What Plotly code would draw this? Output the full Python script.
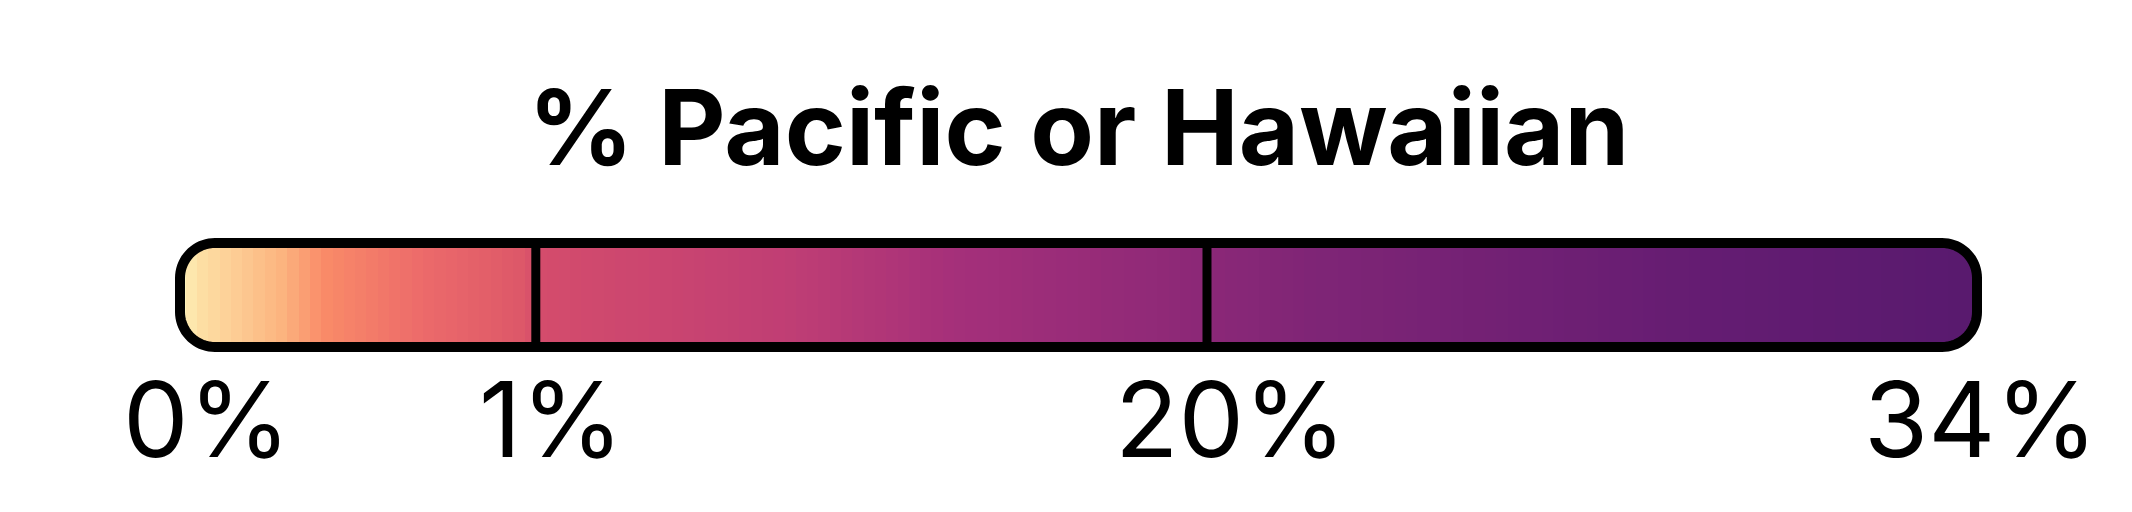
import numpy as np
import plotly.graph_objects as go

title = "% Pacific or Hawaiian"
break_labels = ["0%", "1%", "20%", "34%"]
break_positions = [0.0, 0.198, 0.5715, 1.0]
color_stops = [0.0, 0.01, 0.057, 0.08, 0.135, 0.19, 0.2, 0.337, 0.43, 0.567, 0.63, 0.85, 1.0]
color_values = ["#fdf3bb", "#fde0a5", "#fcb47f", "#f98b68", "#ec6a6a", "#dd5869", "#d44c6c",
                "#c03e74", "#a5307a", "#8c2877", "#7f2576", "#641c72", "#581a6e"]

W, H = 2132, 512
L, R, T, B = 172, 1969, 235, 339
pw, ph = R - L, B - T
rad = 35

xs = np.linspace(0, 1, 160)
fig = go.Figure(go.Heatmap(x=xs, y=[0, 1], z=[xs, xs], zmin=0, zmax=1,
                           colorscale=list(zip(color_stops, color_values)),
                           showscale=False, hoverinfo="skip"))

def px(x): return (x - L) / pw
def py(y): return (B - y) / ph

def arc(cx, cy, a0, a1, n=20):
    t = np.linspace(a0, a1, n)
    return [(cx + rad * np.cos(a), cy - rad * np.sin(a)) for a in t]

corners = [((L + rad, T + rad), np.pi / 2, np.pi, (L - 20, T - 20)),
           ((R - rad, T + rad), 0, np.pi / 2, (R + 20, T - 20)),
           ((L + rad, B - rad), np.pi, 1.5 * np.pi, (L - 20, B + 20)),
           ((R - rad, B - rad), 1.5 * np.pi, 2 * np.pi, (R + 20, B + 20))]
shapes = []
for (cx, cy), a0, a1, out in corners:
    pts = arc(cx, cy, a0, a1)
    # square mask around corner
    if out[0] < L and out[1] < T:
        poly = [(L - 20, T + rad)] + [(L, T + rad)] + pts[::-1] + [(L + rad, T), (L + rad, T - 20), (L - 20, T - 20)]
    elif out[0] > R and out[1] < T:
        poly = [(R - rad, T - 20), (R - rad, T)] + pts[::-1] + [(R, T + rad), (R + 20, T + rad), (R + 20, T - 20)]
    elif out[0] < L:
        poly = [(L - 20, B - rad), (L, B - rad)] + pts + [(L + rad, B), (L + rad, B + 20), (L - 20, B + 20)]
    else:
        poly = [(R - rad, B + 20), (R - rad, B)] + pts[::-1] + [(R, B - rad), (R + 20, B - rad), (R + 20, B + 20)]
    path = "M" + " L".join(f"{px(a):.5f},{py(b):.5f}" for a, b in poly) + " Z"
    shapes.append(dict(type="path", xref="paper", yref="paper", path=path,
                       fillcolor="white", line=dict(width=0)))

outline = (arc(R - rad, T + rad, 0, np.pi / 2) + arc(L + rad, T + rad, np.pi / 2, np.pi)
           + arc(L + rad, B - rad, np.pi, 1.5 * np.pi) + arc(R - rad, B - rad, 1.5 * np.pi, 2 * np.pi))
path = "M" + " L".join(f"{px(a):.5f},{py(b):.5f}" for a, b in outline) + " Z"
shapes.append(dict(type="path", xref="paper", yref="paper", path=path,
                   line=dict(color="black", width=10)))
for p in break_positions[1:-1]:
    shapes.append(dict(type="line", xref="paper", yref="paper", x0=p, x1=p, y0=0, y1=1,
                       line=dict(color="black", width=9)))

label_shift = [27, 15, 24, 4]
ann = [dict(text=f"<b>{title}</b>", x=0.5, y=py(119), xref="paper", yref="paper",
            showarrow=False, xanchor="center", yanchor="middle",
            font=dict(family="Inter", size=104, color="black"))]
for lab, p, s in zip(break_labels, break_positions, label_shift):
    ann.append(dict(text=lab, x=p, y=py(411), xref="paper", yref="paper", xshift=s,
                    showarrow=False, xanchor="center", yanchor="middle",
                    font=dict(family="Inter", size=104, color="black")))

fig.update_layout(width=W, height=H, margin=dict(l=L, r=W - R, t=T, b=H - B),
                  paper_bgcolor="white", plot_bgcolor="white",
                  xaxis=dict(visible=False, range=[0, 1]),
                  yaxis=dict(visible=False, range=[0, 1]),
                  shapes=shapes, annotations=ann)
fig.write_html("out.html")
